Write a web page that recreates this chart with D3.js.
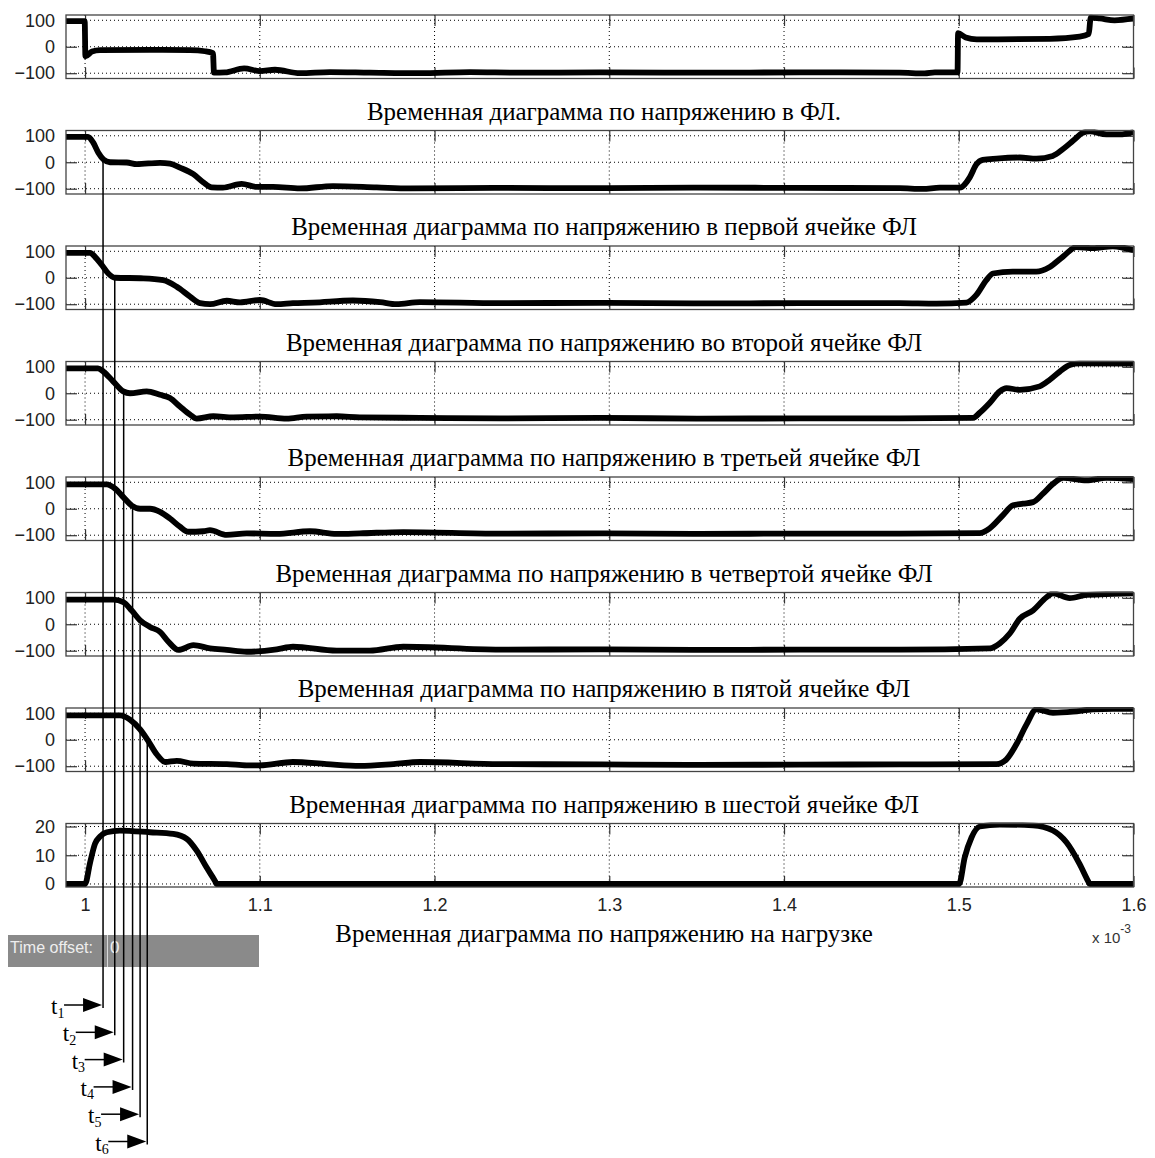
<!DOCTYPE html>
<html>
<head>
<meta charset="utf-8">
<script src="https://cdn.jsdelivr.net/npm/d3@7"></script>
<style>
  body { margin: 0; background: #fff; }
  svg { display: block; }
</style>
</head>
<body>
<svg id="chart" width="1155" height="1158"></svg>
<script>
// Time axis is in units of 10^-3 s
const xTicks = [1, 1.1, 1.2, 1.3, 1.4, 1.5, 1.6];
const xTickLabels = ["1", "1.1", "1.2", "1.3", "1.4", "1.5", "1.6"];
const voltTicks = [-100, 0, 100];
const loadTicks = [0, 10, 20];

const captions = [
  "Временная диаграмма по напряжению в ФЛ.",
  "Временная диаграмма по напряжению в первой ячейке ФЛ",
  "Временная диаграмма по напряжению во второй ячейке ФЛ",
  "Временная диаграмма по напряжению в третьей ячейке ФЛ",
  "Временная диаграмма по напряжению в четвертой ячейке ФЛ",
  "Временная диаграмма по напряжению в пятой ячейке ФЛ",
  "Временная диаграмма по напряжению в шестой ячейке ФЛ",
  "Временная диаграмма по напряжению на нагрузке"
];

// [time, voltage] samples
const flVoltage = [
  [0.9891, 97], [0.9998, 97], [1.0002, -36], [1.0040, -18], [1.0086, -13], [1.0372, -12],
  [1.0601, -13], [1.0686, -17], [1.0732, -24], [1.0738, -98], [1.0801, -97], [1.0910, -82],
  [1.1001, -92], [1.1087, -87], [1.1230, -100], [1.1402, -96], [1.1630, -98], [1.1916, -100],
  [1.2203, -96], [1.2489, -98], [1.2946, -97], [1.3518, -98], [1.4090, -97], [1.4662, -98],
  [1.4805, -101], [1.4863, -97], [1.4993, -97], [1.4996, 51], [1.5040, 35], [1.5103, 28],
  [1.5521, 30], [1.5692, 38], [1.5744, 48], [1.5755, 110], [1.5807, 107], [1.5892, 100], [1.6, 107]
];
const cell1Voltage = [
  [0.9891, 96], [1.0017, 96], [1.0047, 74], [1.0076, 36], [1.0105, 11], [1.0143, 0],
  [1.0239, -1], [1.0296, -7], [1.0429, -2], [1.0486, -5], [1.0543, -20], [1.0620, -45],
  [1.0677, -76], [1.0725, -95], [1.0789, -96], [1.0896, -82], [1.0982, -93], [1.1076, -93],
  [1.1230, -99], [1.1419, -90], [1.1669, -95], [1.1859, -99], [1.2374, -97], [1.2946, -98],
  [1.3518, -96], [1.4090, -97], [1.4662, -98], [1.4794, -101], [1.4891, -96], [1.5006, -96],
  [1.5063, -57], [1.5101, -8], [1.5137, 9], [1.5216, 14], [1.5349, 18], [1.5444, 14],
  [1.5538, 24], [1.5595, 49], [1.5652, 80], [1.5709, 111], [1.5749, 117], [1.5845, 105],
  [1.5921, 105], [1.6, 114]
];
const cell2Voltage = [
  [0.9891, 94], [1.0029, 94], [1.0057, 79], [1.0096, 48], [1.0133, 16], [1.0172, 0],
  [1.0334, -2], [1.0448, -9], [1.0525, -34], [1.0601, -71], [1.0658, -96], [1.0715, -100],
  [1.0811, -87], [1.0887, -93], [1.1001, -84], [1.1097, -100], [1.1190, -96], [1.1304, -94],
  [1.1533, -86], [1.1688, -92], [1.1783, -100], [1.1916, -92], [1.2374, -96], [1.2946, -95],
  [1.3518, -97], [1.4090, -96], [1.4662, -96], [1.4872, -98], [1.5044, -94], [1.5101, -65],
  [1.5158, -9], [1.5196, 16], [1.5309, 23], [1.5444, 23], [1.5521, 41], [1.5595, 79],
  [1.5673, 116], [1.5767, 112], [1.5881, 119], [1.6, 104]
];
const cell3Voltage = [
  [0.9891, 94], [1.0074, 94], [1.0105, 82], [1.0162, 44], [1.0219, 7], [1.0257, 0],
  [1.0353, 7], [1.0429, -6], [1.0486, -18], [1.0543, -50], [1.0601, -81], [1.0639, -96],
  [1.0734, -87], [1.0848, -91], [1.1001, -88], [1.1154, -96], [1.1268, -88], [1.1440, -87],
  [1.1573, -91], [1.1916, -93], [1.2374, -95], [1.2946, -93], [1.3518, -96], [1.4090, -95],
  [1.4662, -95], [1.5082, -93], [1.5120, -74], [1.5177, -37], [1.5235, 7], [1.5273, 19],
  [1.5349, 13], [1.5463, 26], [1.5521, 51], [1.5578, 82], [1.5635, 107], [1.5692, 113], [1.6, 112]
];
const cell4Voltage = [
  [0.9891, 92], [1.0124, 92], [1.0172, 76], [1.0219, 44], [1.0267, 12], [1.0315, 0],
  [1.0372, 0], [1.0429, -12], [1.0486, -37], [1.0543, -68], [1.0591, -87], [1.0677, -85],
  [1.0715, -81], [1.0811, -99], [1.0925, -93], [1.1097, -95], [1.1287, -85], [1.1440, -95],
  [1.1573, -93], [1.1821, -88], [1.2374, -94], [1.2946, -93], [1.3518, -95], [1.4090, -94],
  [1.4662, -94], [1.5120, -92], [1.5177, -74], [1.5253, -24], [1.5311, 13], [1.5368, 19],
  [1.5425, 25], [1.5482, 57], [1.5539, 94], [1.5597, 117], [1.5731, 107], [1.5845, 117], [1.6, 112]
];
const cell5Voltage = [
  [0.9891, 93], [1.0162, 93], [1.0219, 84], [1.0267, 52], [1.0315, 15], [1.0372, -10],
  [1.0429, -29], [1.0477, -66], [1.0534, -97], [1.0620, -79], [1.0715, -91], [1.0811, -97],
  [1.0925, -104], [1.1097, -95], [1.1190, -85], [1.1440, -100], [1.1630, -100], [1.1821, -85],
  [1.2374, -96], [1.2946, -95], [1.3518, -97], [1.4090, -96], [1.4662, -96], [1.5177, -91],
  [1.5235, -72], [1.5292, -35], [1.5349, 21], [1.5425, 52], [1.5502, 102], [1.5539, 117],
  [1.5635, 99], [1.5731, 111], [1.5883, 115], [1.6, 117]
];
const cell6Voltage = [
  [0.9891, 92], [1.0200, 92], [1.0257, 76], [1.0315, 39], [1.0362, -5], [1.0410, -55],
  [1.0458, -84], [1.0525, -80], [1.0620, -90], [1.0811, -92], [1.0925, -97], [1.1001, -97],
  [1.1190, -84], [1.1382, -92], [1.1573, -99], [1.1764, -92], [1.1916, -84], [1.2374, -92],
  [1.2946, -93], [1.3518, -95], [1.4090, -94], [1.4662, -93], [1.5216, -92], [1.5273, -74],
  [1.5330, -17], [1.5388, 58], [1.5444, 115], [1.5539, 102], [1.5654, 106], [1.5768, 115],
  [1.5883, 117], [1.6, 117]
];
const loadVoltage = [
  [0.9891, 0], [1.0, 0], [1.0029, 7.5], [1.0057, 14], [1.0086, 16.5], [1.0124, 18],
  [1.0200, 18.6], [1.0372, 18], [1.0505, 17.4], [1.0582, 15.7], [1.0639, 11.6], [1.0696, 5.7],
  [1.0744, 1], [1.0753, 0], [1.5002, 0], [1.5034, 9.2], [1.5073, 16.2], [1.5120, 20],
  [1.5235, 20.7], [1.5425, 20.4], [1.5539, 18.6], [1.5616, 14.5], [1.5692, 6.9], [1.5740, 1],
  [1.5749, 0], [1.6, 0]
];

// Instants t1..t6 where the wave front reaches each cell (0 V crossing)
const frontTimes = [1.0103, 1.0170, 1.0221, 1.0272, 1.0315, 1.0356];
const frontLabels = ["1", "2", "3", "4", "5", "6"];

const panels = [
  { data: flVoltage, ticks: voltTicks, domain: [-120, 120] },
  { data: cell1Voltage, ticks: voltTicks, domain: [-120, 120] },
  { data: cell2Voltage, ticks: voltTicks, domain: [-120, 120] },
  { data: cell3Voltage, ticks: voltTicks, domain: [-120, 120] },
  { data: cell4Voltage, ticks: voltTicks, domain: [-120, 120] },
  { data: cell5Voltage, ticks: voltTicks, domain: [-120, 120] },
  { data: cell6Voltage, ticks: voltTicks, domain: [-120, 120] },
  { data: loadVoltage, ticks: loadTicks, domain: [-1.05, 21.05] }
];

const svg = d3.select("#chart");
const left = 66, right = 1133.5, top0 = 15, step = 115.5, ph = 63.5;
const tickFont = "'Liberation Sans', Arial, sans-serif";
const serif = "'Liberation Serif', 'Times New Roman', serif";

const x = d3.scaleLinear().domain([0.9891, 1.6]).range([left, right]);
const yScales = [];

panels.forEach((p, i) => {
  const top = top0 + i * step;
  const bottom = top + ph;
  const y = d3.scaleLinear().domain(p.domain).range([bottom, top]);
  yScales.push(y);
  const last = i === panels.length - 1;
  const g = svg.append("g");

  // dotted grid
  g.selectAll("line.vg").data(xTicks).join("line")
    .attr("class", "vg")
    .attr("x1", d => x(d)).attr("x2", d => x(d))
    .attr("y1", top).attr("y2", bottom)
    .attr("stroke", "#000").attr("stroke-width", 1).attr("stroke-dasharray", "1,3");
  g.selectAll("line.hg").data(p.ticks).join("line")
    .attr("class", "hg")
    .attr("x1", left).attr("x2", right)
    .attr("y1", d => y(d)).attr("y2", d => y(d))
    .attr("stroke", "#000").attr("stroke-width", 1).attr("stroke-dasharray", "1,3");

  // axes with inward ticks
  const yl = g.append("g").attr("transform", `translate(${left},0)`)
    .call(d3.axisLeft(y).tickValues(p.ticks).tickSize(-11).tickPadding(11).tickFormat(d3.format("d")));
  const yr = g.append("g").attr("transform", `translate(${right},0)`)
    .call(d3.axisRight(y).tickValues(p.ticks).tickSize(-11).tickFormat(""));
  const xb = g.append("g").attr("transform", `translate(0,${bottom})`)
    .call(d3.axisBottom(x).tickValues(xTicks).tickSize(-11).tickPadding(11)
      .tickFormat((d, k) => last ? xTickLabels[k] : ""));
  const xt = g.append("g").attr("transform", `translate(0,${top})`)
    .call(d3.axisTop(x).tickValues(xTicks).tickSize(-11).tickFormat(""));
  [yl, yr, xb, xt].forEach(a => {
    a.select(".domain").remove();
    a.selectAll(".tick line").attr("stroke", "#333").attr("stroke-width", 1.2);
    a.selectAll("text").attr("font-family", tickFont).attr("font-size", 18).attr("fill", "#222");
  });

  // clip the trace to the axes box
  const clipId = "clip" + i;
  svg.append("clipPath").attr("id", clipId)
    .append("rect").attr("x", left).attr("y", top - 1).attr("width", right - left).attr("height", ph + 2);

  const line = d3.line().x(d => x(d[0])).y(d => y(d[1])).curve(d3.curveMonotoneX);
  g.append("path").datum(p.data)
    .attr("d", line)
    .attr("clip-path", `url(#${clipId})`)
    .attr("fill", "none").attr("stroke", "#000")
    .attr("stroke-width", 5.8).attr("stroke-linejoin", "round").attr("stroke-linecap", "butt");

  // axes box
  g.append("rect").attr("x", left).attr("y", top).attr("width", right - left).attr("height", ph)
    .attr("fill", "none").attr("stroke", "#444").attr("stroke-width", 1.3);

  // caption under the axes
  svg.append("text")
    .attr("transform", `translate(604,${last ? bottom + 54.5 : bottom + 41}) scale(0.96,1)`)
    .attr("text-anchor", "middle")
    .attr("font-family", serif).attr("font-size", 26).attr("fill", "#000")
    .text(captions[i]);
});

// exponent of the time axis
const expo = svg.append("text").attr("x", 1092).attr("y", 943)
  .attr("font-family", tickFont).attr("font-size", 15).attr("fill", "#333");
expo.append("tspan").text("x 10");
expo.append("tspan").attr("dy", -10).attr("font-size", 12).text("-3");

// "Time offset" status bar
svg.append("rect").attr("x", 8).attr("y", 935).attr("width", 251).attr("height", 32).attr("fill", "#8a8a8a");
svg.append("line").attr("x1", 107.5).attr("x2", 107.5).attr("y1", 935).attr("y2", 967)
  .attr("stroke", "#d8d8d8").attr("stroke-width", 1);
svg.append("text").attr("x", 10).attr("y", 953).attr("font-family", tickFont).attr("font-size", 17)
  .attr("fill", "#eeeeee").attr("textLength", 83).attr("lengthAdjust", "spacingAndGlyphs").text("Time offset:");
svg.append("text").attr("x", 110).attr("y", 953).attr("font-family", tickFont).attr("font-size", 17)
  .attr("fill", "#eeeeee").text("0");

// wave-front markers t1..t6
const arrowY0 = 1005, arrowStep = 27.3;
frontTimes.forEach((t, i) => {
  const y = yScales[i + 1];
  const lx = x(t);
  const ay = arrowY0 + i * arrowStep;
  svg.append("line").attr("x1", lx).attr("x2", lx).attr("y1", y(0)).attr("y2", ay + 3)
    .attr("stroke", "#000").attr("stroke-width", 1.5);
  svg.append("line").attr("x1", lx - 39).attr("x2", lx - 18).attr("y1", ay).attr("y2", ay)
    .attr("stroke", "#000").attr("stroke-width", 1.5);
  svg.append("path")
    .attr("d", `M${lx - 1},${ay}L${lx - 20},${ay - 7}L${lx - 20},${ay + 7}Z`)
    .attr("fill", "#000");
  const lbl = svg.append("text").attr("x", lx - 52).attr("y", ay + 9)
    .attr("font-family", serif).attr("font-size", 23).attr("fill", "#000");
  lbl.append("tspan").text("t");
  lbl.append("tspan").attr("dy", 3.5).attr("font-size", 14).text(frontLabels[i]);
});
</script>
</body>
</html>
